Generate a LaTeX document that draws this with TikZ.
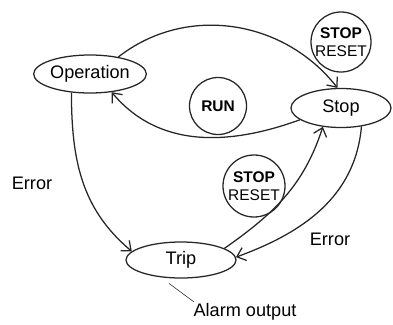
\documentclass[tikz,border=0pt]{standalone}
\usepackage{fontspec}
\setmainfont{Liberation Sans}
\usepackage{tikz}
\usetikzlibrary{calc,shapes.geometric,arrows.meta,positioning}

\begin{document}
\begin{tikzpicture}[
        statenode/.style={
            ellipse,
            draw=black!85,
            line width=0.9pt,
            inner sep=0pt,
            font=\fontsize{12.9}{14}\selectfont
        },
        keynode/.style={
            circle,
            draw=black!85,
            line width=0.9pt,
            inner sep=0pt,
            align=center,
            font=\fontsize{11}{12.6}\selectfont
        },
        trans/.style={draw=black!85, line width=0.9pt, -{Straight Barb[length=2mm,width=3.4mm]}},
        lbl/.style={font=\fontsize{12.9}{14}\selectfont, inner sep=1pt}
    ]
        \useasboundingbox (0,0) rectangle (9.825,8.1);

        \node[statenode, minimum width=2.775cm, minimum height=0.95cm]  (op)   at (2.25,6.25) {Operation};
        \node[statenode, minimum width=2.5cm,   minimum height=0.975cm] (stop) at (8.525,5.4) {Stop};
        \node[statenode, minimum width=2.75cm,  minimum height=0.9cm]   (trip) at (4.525,1.6) {Trip};

        \node[keynode, minimum size=1.5cm]   (reset1) at (8.525,7.05) {\textbf{STOP}\\RESET};
        \node[keynode, minimum size=1.425cm] (run)    at (5.45,5.45)  {\textbf{RUN}};
        \node[keynode, minimum size=1.55cm]  (reset2) at (6.35,3.45)  {\textbf{STOP}\\RESET};

        \node[lbl] (err1)  at (0.8,3.525)   {Error};
        \node[lbl] (err2)  at (8.25,2.125)  {Error};
        \node[lbl] (alarm) at (6.125,0.3)   {Alarm output};

        \draw[trans] (op.31) to[out=38,in=128] (stop.100);
        \draw[trans] (stop.196) to[out=200,in=-50] (op.-40);
        \draw[trans] (op.225) to[out=-90,in=140] (trip.170);
        \draw[trans] (trip.15) to[out=35,in=-108] (stop.226);
        \draw[trans] (stop.-42) to[out=-95,in=20] (trip.3);

        \draw[black!85, thin] ($(trip.south)+(-0.3,-0.12)$) -- ($(alarm.north west)+(0.05,0)$);
    \end{tikzpicture}
\end{document}
